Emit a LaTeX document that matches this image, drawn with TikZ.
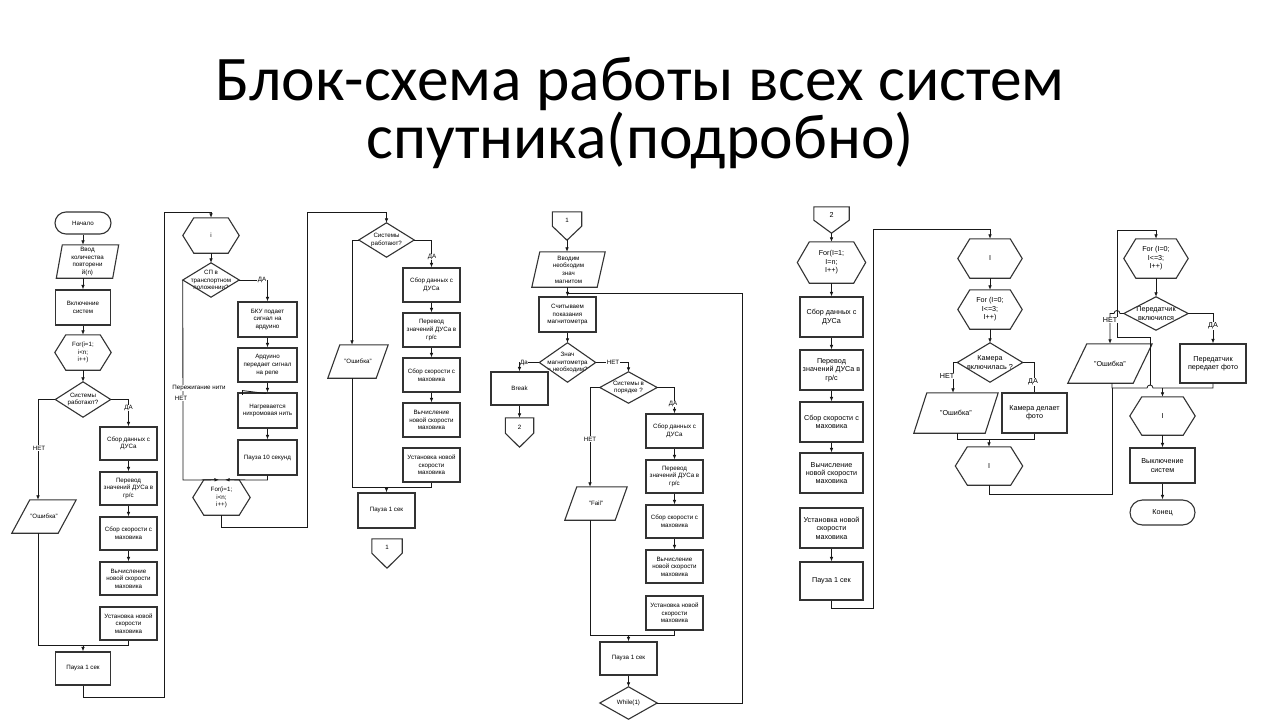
\documentclass[tikz,border=0pt]{standalone}
\usepackage{fontspec}
\setmainfont{Liberation Sans}
\newfontfamily\titlefont{Carlito}
\usetikzlibrary{arrows.meta,calc}
\newcommand\dfont{\fontsize{6.2}{7.6}\selectfont}
\tikzset{
  shp/.style={draw=black!80, line width=1.1pt, line join=miter},
  rbox/.style={shp, inner sep=0pt, align=center, font=\dfont},
  sh/.style={inner sep=0pt, align=center, font=\dfont},
  ln/.style={draw=black!90, line width=0.8pt},
  arr/.style={ln, -{Latex[length=4.5pt,width=3.6pt]}},
  lbl/.style={fill=white, inner sep=0.6pt, font=\dfont},
  ttl/.style={font=\titlefont\fontsize{63.5}{63.5}\selectfont, anchor=base, inner sep=0pt},
}
\newcommand\Rbx[6]{\node[rbox,minimum width=#4pt,minimum height=#5pt] (#1) at (#2,#3) {#6};}
\newcommand\Dia[6]{\node[sh,minimum width=#4pt,minimum height=#5pt] (#1) at (#2,#3) {#6};
  \draw[shp] (#1.north) -- (#1.east) -- (#1.south) -- (#1.west) -- cycle;}
\newcommand\Hex[7]{\node[sh,minimum width=#4pt,minimum height=#5pt] (#1) at (#2,#3) {#7};
  \draw[shp] (#1.west) -- ([xshift=#6pt]#1.north west) -- ([xshift=-#6pt]#1.north east) -- (#1.east) -- ([xshift=-#6pt]#1.south east) -- ([xshift=#6pt]#1.south west) -- cycle;}
\newcommand\Par[7]{\node[sh,minimum width=#4pt,minimum height=#5pt] (#1) at (#2,#3) {#7};
  \draw[shp] ([xshift=#6pt]#1.north west) -- ([xshift=#6pt]#1.north east) -- ([xshift=-#6pt]#1.south east) -- ([xshift=-#6pt]#1.south west) -- cycle;}
\newcommand\Off[7]{\node[minimum width=#4pt,minimum height={(#5+#6)*1pt},inner sep=0pt] (#1) at (#2,{#3+(#5+#6)/2}) {};
  \draw[shp] (#1.north west) -- (#1.north east) -- ([yshift=#6pt]#1.south east) -- (#1.south) -- ([yshift=#6pt]#1.south west) -- cycle;
  \node[sh] at ([yshift={(#6/2-1.5)*1pt}]#1.center) {#7};}
\begin{document}
\begin{tikzpicture}[x=1pt,y=-1pt]
\fill[white] (0,0) rectangle (1280,720);
\useasboundingbox (0,0) rectangle (1280,720);
% title
\node[ttl] (t1) at (640,100) {Блок-схема работы всех систем};
\node[ttl] (t2) at (640,158) {спутника(подробно)};

% ---------- column 1
\node[rbox, rounded corners=11pt, minimum width=56pt, minimum height=22pt] (a1) at (83,223) {Начало};
\Par{a2}{87.5}{261.5}{56}{33}{3}{Ввод\\количества\\повторени\\й(n)}
\Rbx{a3}{83}{307.5}{55}{35}{Включение\\систем}
\Hex{a4}{83}{352.5}{56}{35}{11}{For(i=1;\\i<n;\\i++)}
\Dia{a5}{83}{399.5}{55}{35}{Системы\\работают?}
\Rbx{a6}{128.5}{443.5}{57}{33}{Сбор данных с\\ДУСа}
\Rbx{a7}{128.5}{488.5}{57}{33}{Перевод\\значений ДУСа в\\гр/с}
\Rbx{a8}{128.5}{533.5}{57}{33}{Сбор скорости с\\маховика}
\Rbx{a9}{128.5}{578.5}{57}{33}{Вычисление\\новой скорости\\маховика}
\Rbx{a10}{128.5}{623.5}{57}{33}{Установка новой\\скорости\\маховика}
\Par{a11}{44}{516.5}{46}{33}{9}{"Ошибка"}
\Rbx{a12}{83}{668.5}{55}{33}{Пауза 1 сек}
\draw[arr] (a1.south) -- (a1.south |- a2.north);
\draw[arr] (a3.north |- a2.south) -- (a3.north);
\draw[arr] (a3.south) -- (a4.north);
\draw[arr] (a4.south) -- (a5.north);
\draw[arr] (a5.west) -- (38,399.5) -- ($(a11.north)+(-6,0)$);
\draw[arr] (a5.east) -- (128.5,399.5) -- (a6.north);
\draw[arr] (a6.south) -- (a7.north);
\draw[arr] (a7.south) -- (a8.north);
\draw[arr] (a8.south) -- (a9.north);
\draw[arr] ($(a11.south)+(-6,0)$) -- (38,645) -- (83,645) -- (a12.north);
\draw[ln] (a10.south) -- (128.5,645) -- (83,645);
\node[lbl] at (39,448) {НЕТ};
\node[lbl] at (128.5,408) {ДА};

% ---------- column 2
\Hex{b1}{211}{235.5}{56}{35}{11}{i}
\Dia{b2}{211}{280}{56}{34}{СП в\\транспортном\\положении?}
\Rbx{b3}{267.5}{319.5}{59}{35}{БКУ подает\\сигнал на\\ардуино}
\Rbx{b4}{267.5}{365}{59}{34}{Ардуино\\передает сигнал\\на реле}
\Rbx{b5}{267.5}{410.5}{59}{35}{Нагревается\\нихромовая нить}
\Rbx{b6}{267.5}{457.5}{59}{35}{Пауза 10 секунд}
\Hex{b7}{221.5}{497.5}{57}{35}{11}{For(i=1;\\i<n;\\i++)}
\draw[arr] (a12.south) -- (83,697) -- (164,697) -- (164,212.7) -- (211,212.7) -- (b1.north);
\draw[arr] (b1.south) -- (b2.north);
\draw[arr] (b2.east) -- (267.5,280) -- (b3.north);
\draw[arr] (b3.south) -- (b4.north);
\draw[arr] (b4.south) -- (b5.north);
\draw[arr] (b5.south) -- (b6.north);
\draw[arr] (b2.west) -- (183,480) -- ($(b7.north)+(-2.5,0)$);
\draw[arr] (b6.south) -- (267.5,480) -- ($(b7.north)+(3.5,0)$);
\draw[ln] (242,390) -- (242,395);
\draw[ln] (242,390.5) -- (266,393.5);
\node[lbl] at (262,280) {ДА};
\node[lbl] at (199,388) {Пережигание нити};
\node[lbl] at (181,398) {НЕТ};

% ---------- column 3
\Dia{c1}{386.5}{240}{55}{34}{Системы\\работают?}
\Rbx{c2}{431.5}{285}{57}{34}{Сбор данных с\\ДУСа}
\Rbx{c3}{431.5}{330}{57}{34}{Перевод\\значений ДУСа в\\гр/с}
\Rbx{c4}{431.5}{375}{57}{34}{Сбор скорости с\\маховика}
\Rbx{c5}{431.5}{420}{57}{34}{Вычисление\\новой скорости\\маховика}
\Rbx{c6}{431.5}{465}{57}{34}{Установка новой\\скорости\\маховика}
\Par{c7}{358}{361.5}{48}{33}{6}{"Ошибка"}
\Rbx{c8}{386.5}{510.5}{57}{35}{Пауза 1 сек}
\Off{c9}{387}{539}{30}{14}{15}{1}
\draw[arr] (b7.south) -- (221.5,527) -- (307,527) -- (307,212.7) -- (386.5,212.7) -- (c1.north);
\draw[arr] (c1.east) -- (431.5,240) -- (c2.north);
\draw[arr] (c2.south) -- (c3.north);
\draw[arr] (c3.south) -- (c4.north);
\draw[arr] (c4.south) -- (c5.north);
\draw[arr] (c1.west) -- (352,240) -- ($(c7.north)+(-6,0)$);
\draw[arr] ($(c7.south)+(-6,0)$) -- (352,487) -- (386.5,487) -- (c8.north);
\draw[ln] (c6.south) -- (431.5,487) -- (386.5,487);
\node[lbl] at (432,257) {ДА};

% ---------- column 4
\Off{d1}{567}{212}{29}{14}{14}{1}
\Par{d2}{568.5}{269.5}{65}{35}{4}{Вводим\\необходим\\знач\\магнитом}
\Rbx{d3}{567.5}{314.5}{57}{35}{Считываем\\показания\\магнитометра}
\Dia{d4}{567.5}{362.5}{56}{39}{Знач\\магнитометра\\= необходим?}
\Rbx{d5}{519.5}{388.5}{57}{33}{Break}
\Off{d6}{519.5}{418}{28}{15}{14}{2}
\Dia{d7}{628.5}{387.5}{57}{31}{Системы в\\порядке ?}
\Rbx{d8}{674.5}{431}{57}{34}{Сбор данных с\\ДУСа}
\Rbx{d9}{674.5}{476.5}{57}{33}{Перевод\\значений ДУСа в\\гр/с}
\Rbx{d10}{674.5}{521.5}{57}{33}{Сбор скорости с\\маховика}
\Rbx{d11}{674.5}{566.5}{57}{33}{Вычисление\\новой скорости\\маховика}
\Rbx{d12}{674.5}{613}{57}{34}{Установка новой\\скорости\\маховика}
\Par{d13}{596}{503.5}{50}{33}{6}{"Fail"}
\Rbx{d14}{628.5}{658.5}{57}{33}{Пауза 1 сек}
\Dia{d15}{628.5}{703}{57}{32}{While(1)}
\draw[arr] (d1.south) -- (d1.south |- d2.north);
\draw[arr] (d3.north |- d2.south) -- (d3.north);
\draw[ln] (d15.east) -- (742,703) -- (742,293) -- (567.5,293);
\draw[arr] (d3.south) -- (d4.north);
\draw[arr] (d4.west) -- (519.5,362.5) -- (d5.north);
\draw[arr] (d5.south) -- (d6.north);
\draw[arr] (d4.east) -- (628.5,362.5) -- (d7.north);
\draw[arr] (d7.east) -- (674.5,387.5) -- (d8.north);
\draw[arr] (d8.south) -- (d9.north);
\draw[arr] (d9.south) -- (d10.north);
\draw[arr] (d10.south) -- (d11.north);
\draw[arr] (d7.west) -- (590,387.5) -- ($(d13.north)+(-6,0)$);
\draw[arr] ($(d13.south)+(-6,0)$) -- (590,635) -- (628.5,635) -- (d14.north);
\draw[ln] (d12.south) -- (674.5,635) -- (628.5,635);
\draw[arr] (d14.south) -- (d15.north);
\node[lbl] at (524,362.5) {Да};
\node[lbl] at (613,362.5) {НЕТ};
\node[lbl] at (673,404) {ДА};
\node[lbl] at (590,439) {НЕТ};

% ---------- column 5
\renewcommand\dfont{\fontsize{7.2}{8.4}\selectfont}
\Off{e1}{831.5}{207}{35}{13}{13}{2}
\Hex{e2}{831.5}{262.5}{68}{41}{12}{For(I=1;\\I=n;\\I++)}
\Rbx{e3}{831.5}{317}{63}{40}{Сбор данных с\\ДУСа}
\Rbx{e4}{831.5}{370}{63}{40}{Перевод\\значений ДУСа в\\гр/с}
\Rbx{e5}{831.5}{422}{63}{40}{Сбор скорости с\\маховика}
\Rbx{e6}{831.5}{473}{63}{40}{Вычисление\\новой скорости\\маховика}
\Rbx{e7}{831.5}{528}{63}{40}{Установка новой\\скорости\\маховика}
\Rbx{e8}{831.5}{581}{63}{38}{Пауза 1 сек}
\draw[arr] (e1.south) -- (e2.north);
\draw[arr] (e2.south) -- (e3.north);
\draw[arr] (e3.south) -- (e4.north);
\draw[arr] (e4.south) -- (e5.north);
\draw[arr] (e5.south) -- (e6.north);
\draw[arr] (e7.south) -- (e8.north);

% ---------- column 6
\Hex{f1}{990}{258.5}{64}{39}{12}{I}
\Hex{f2}{990}{309.5}{64}{39}{12}{For (I=0;\\I<=3;\\I++)}
\Dia{f3}{990}{362.5}{65}{39}{Камера\\включилась ?}
\Par{f4}{956}{413}{71}{40}{6.5}{"Ошибка"}
\Rbx{f5}{1034.5}{413}{65}{40}{Камера делает\\фото}
\Hex{f6}{989}{466}{67}{38}{12}{I}
\draw[arr] (e8.south) -- (831.5,608) -- (873,608) -- (873,229) -- (990,229) -- (f1.north);
\draw[arr] (f1.south) -- (f2.north);
\draw[arr] (f2.south) -- (f3.north);
\draw[arr] (f3.west) -- (953,362.5) -- ($(f4.north)+(-3,0)$);
\draw[ln] (f3.east) -- (1034.5,362.5) -- (f5.north);
\draw[ln] ($(f4.south)+(1,0)$) -- (957,439) -- (1034.5,439) -- (f5.south);
\draw[arr] (989,439) -- (f6.north);
\draw[ln] (f6.south) -- (989,494) -- (1112,494) -- (1112,388);
\node[lbl] at (947,376) {НЕТ};
\node[lbl] at (1033,382) {ДА};

% ---------- column 7
\Hex{g1}{1156}{258.5}{64}{39}{12}{For (I=0;\\I<=3;\\I++)}
\Dia{g2}{1156}{313.5}{64}{33}{Передатчик\\включился}
\Par{g3}{1110}{363.5}{65}{39}{9.5}{"Ошибка"}
\Rbx{g4}{1213}{363.5}{66}{39}{Передатчик\\передает фото}
\Hex{g5}{1162.5}{416}{65}{38}{12}{I}
\Rbx{g6}{1162.5}{465.5}{65}{35}{Выключение\\систем}
\node[rbox, rounded corners=12.5pt, minimum width=65pt, minimum height=25pt] (g7) at (1162.5,512.5) {Конец};
\draw[arr] (1150,385) -- (1150,337) -- (1117,337) -- (1117,230) -- (1156,230) -- (g1.north);
\draw[arr] (g1.south) -- (g2.north);
\draw[arr] (g2.west) -- (1120,313.5) arc (0:-180:3) -- (1110,313.5) -- (g3.north);
\draw[arr] (g2.east) -- (1213,313.5) -- (g4.north);
\draw[ln] ($(g3.south)+(2,0)$) -- (1112,388) -- (1147,388) arc (180:360:3) -- (1213,388) -- (g4.south);
\draw[arr] (1162.5,388) -- (g5.north);
\draw[arr] (g5.south) -- (g6.north);
\draw[arr] (g6.south) -- (g7.north);
\node[lbl] at (1110,320) {НЕТ};
\node[lbl] at (1213,326) {ДА};
\end{tikzpicture}
\end{document}
